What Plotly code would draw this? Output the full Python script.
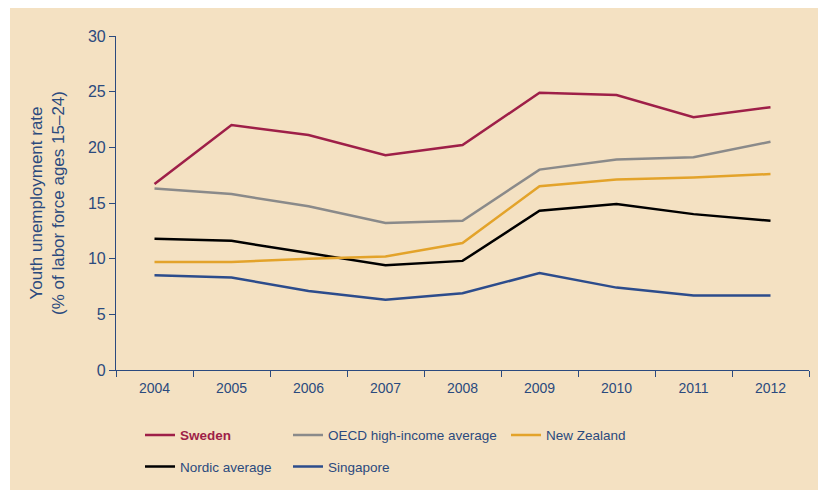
import plotly.graph_objects as go

years = ["2004", "2005", "2006", "2007", "2008", "2009", "2010", "2011", "2012"]
sweden = [16.7, 22.0, 21.1, 19.3, 20.2, 24.9, 24.7, 22.7, 23.6]
oecd = [16.3, 15.8, 14.7, 13.2, 13.4, 18.0, 18.9, 19.1, 20.5]
new_zealand = [9.7, 9.7, 10.0, 10.2, 11.4, 16.5, 17.1, 17.3, 17.6]
nordic = [11.8, 11.6, 10.5, 9.4, 9.8, 14.3, 14.9, 14.0, 13.4]
singapore = [8.5, 8.3, 7.1, 6.3, 6.9, 8.7, 7.4, 6.7, 6.7]
y_ticks = [0, 5, 10, 15, 20, 25, 30]

BG = "#F4E1C2"
NAVY = "#2B4A7E"
FONT = "Liberation Sans, Arial, sans-serif"

series = [
    ("<b>Sweden</b>", sweden, "#9E1F48", "legend", "#9E1F48"),
    ("Nordic average", nordic, "#000000", "legend", NAVY),
    ("OECD high-income average", oecd, "#8A8A8A", "legend2", NAVY),
    ("Singapore", singapore, "#2C4C8C", "legend2", NAVY),
    ("New Zealand", new_zealand, "#E3A32A", "legend3", NAVY),
]

fig = go.Figure()
for i, (name, vals, color, leg, tcol) in enumerate(series):
    fig.add_trace(go.Scatter(
        x=years, y=vals, mode="lines", name=f"<span style='color:{tcol}'>{name}</span>",
        line=dict(color=color, width=2.5), legend=leg, legendgroup=f"g{i}",
    ))

leg_common = dict(
    bgcolor="rgba(0,0,0,0)", font=dict(family=FONT, size=13.5, color=NAVY),
    orientation="v", yanchor="top", xanchor="left", tracegroupgap=11, itemwidth=30,
    xref="container", yref="container", y=0.16,
)

W, H = 826, 490
L, R, T, B = 108, 25, 28, 128
PW, PH = W - L - R, H - T - B

fig.update_layout(
    width=W, height=H,
    paper_bgcolor=BG, plot_bgcolor=BG,
    margin=dict(l=L, r=R, t=T, b=B, autoexpand=False),
    font=dict(family=FONT, size=13, color=NAVY),
    showlegend=True,
    legend=dict(x=132 / W, **leg_common),
    legend2=dict(x=280 / W, **leg_common),
    legend3=dict(x=498 / W, **leg_common),
    xaxis=dict(
        type="category", tickson="boundaries", ticks="outside", ticklen=6,
        tickcolor=NAVY, showline=True, linecolor=NAVY, linewidth=1.2,
        showgrid=False, zeroline=False, tickfont=dict(size=14, color=NAVY),
        ticklabelstandoff=5, range=[-0.5, 8.5], automargin=False,
    ),
    yaxis=dict(
        range=[0, 30], tickvals=y_ticks, ticks="outside", ticklen=6,
        tickcolor=NAVY, showline=True, linecolor=NAVY, linewidth=1.2,
        showgrid=False, zeroline=False, tickfont=dict(size=16, color=NAVY),
        automargin=False,
    ),
    annotations=[dict(
        text="Youth unemployment rate<br>(% of labor force ages 15–24)",
        xref="paper", yref="paper", x=(39 - L) / PW, y=0.5,
        xanchor="center", yanchor="middle", textangle=-90, showarrow=False,
        font=dict(family=FONT, size=17, color=NAVY),
    )],
)
# thin white strip at the far left edge
fig.add_shape(type="rect", xref="paper", yref="paper",
              x0=(0 - L) / PW - 0.01, x1=(2 - L) / PW,
              y0=-B / PH - 0.05, y1=(PH + T) / PH + 0.05,
              fillcolor="white", line=dict(width=0), layer="below")

fig.write_html("out.html")
